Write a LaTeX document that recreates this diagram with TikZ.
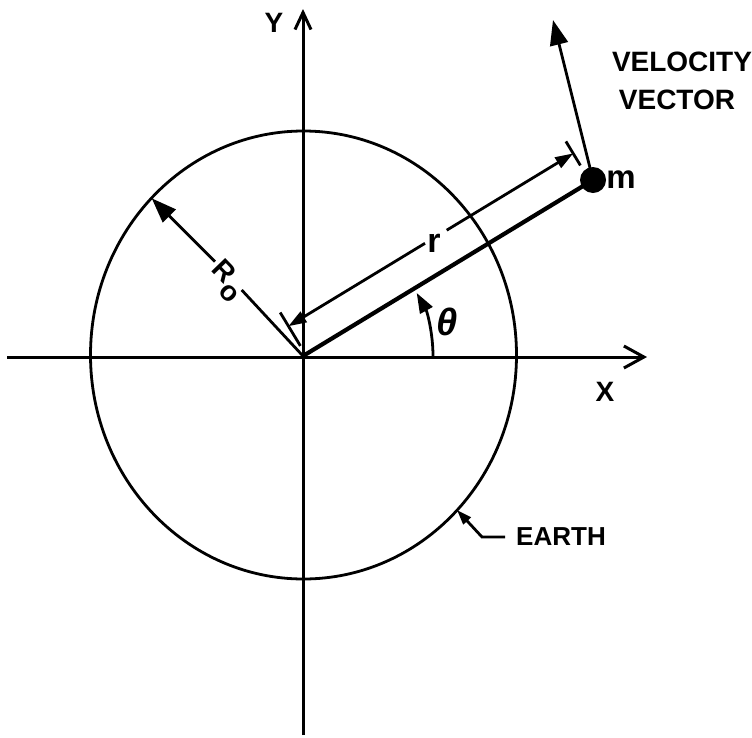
\documentclass[tikz,border=0pt]{standalone}
\usepackage{fontspec}
\setmainfont{Liberation Sans}
\usetikzlibrary{arrows.meta}
\begin{document}
\begin{tikzpicture}[x=1pt,y=-1pt,
  axisline/.style={line width=3pt},
  thinline/.style={line width=2.8pt},
  bigtip/.style={-{Triangle[length=25pt,width=18pt]}},
  dimtip/.style={-{Triangle[length=18pt,width=12pt]}},
  lab/.style={font=\fontsize{28}{30}\selectfont\bfseries, inner sep=0pt},
]
\fill[white] (0,0) rectangle (752,737);
\useasboundingbox (0,0) rectangle (752,737);

% coordinates
\coordinate (O) at (303,356);
\coordinate (ytop) at (303,9);
\coordinate (ybot) at (303,735);
\coordinate (xleft) at (7,357);
\coordinate (xright) at (647,357);
\coordinate (vtip) at (553,20);
\coordinate (dA) at (288.4,326.2);
\coordinate (dB) at (573.2,153.4);
\coordinate (g1) at (425,243.3);
\coordinate (g2) at (446.7,230.2);
\coordinate (tA1) at (300.4,345.9);
\coordinate (tA2) at (280.2,312.5);
\coordinate (tB1) at (580.4,165.4);
\coordinate (tB2) at (565.9,141.4);
\coordinate (Rtip) at (151.7,198.3);
\coordinate (Rg1) at (241.7,290);
\coordinate (Rg2) at (215,261.7);
\coordinate (th0) at (433,356);
\coordinate (e1) at (505,537);
\coordinate (e2) at (482,537);
\coordinate (e3) at (457,510);

% earth
\draw[thinline] (303.5,355) ellipse [x radius=213, y radius=224];

% axes
\draw[axisline,-{Straight Barb[length=17pt,width=16pt]}] (ybot) -- (ytop);
\draw[axisline,-{Straight Barb[length=20pt,width=22pt]}] (xleft) -- (xright);

% mass and radius line
\node[circle,fill=black,minimum size=26pt,inner sep=0pt] (m) at (593,180) {};
\draw[line width=4.2pt] (O) -- (m.center);

% velocity vector
\draw[thinline,bigtip] (m.center) -- (vtip);

% r dimension
\draw[thinline] (tA1) -- (tA2);
\draw[thinline] (tB1) -- (tB2);
\draw[thinline,dimtip] (g1) -- (dA);
\draw[thinline,dimtip] (g2) -- (dB);

% R_o
\draw[thinline] (O) -- (Rg1);
\draw[thinline,bigtip] (Rg2) -- (Rtip);
\node[lab,rotate=-46] (Rlab) at (227,281) {R\kern0.5pt\raisebox{-0.35em}{o}};

% theta arc
\draw[thinline,-{Triangle[length=20pt,width=14pt]}] (th0) arc[start angle=0,end angle=-29,radius=130];
\node[font=\fontsize{38}{40}\selectfont\bfseries\itshape, inner sep=0pt] (theta) at (447,322) {θ};

% earth leader
\draw[thinline,-{Triangle[length=15pt,width=10pt]}] (e1) -- (e2) -- (e3);

% labels
\node[lab] (ylab) at (274,23) {Y};
\node[lab] (xlab) at (605,392) {X};
\node[lab] (vel) at (682,62) {VELOCITY};
\node[lab] (vec) at (677,100) {VECTOR};
\node[font=\fontsize{33}{35}\selectfont\bfseries, inner sep=0pt] (mlab) at (621,180) {m};
\node[font=\fontsize{34}{36}\selectfont\bfseries, inner sep=0pt] (rlab) at (434,243) {r};
\node[lab,font=\fontsize{26}{28}\selectfont\bfseries] (earth) at (561,537) {EARTH};
\end{tikzpicture}
\end{document}
